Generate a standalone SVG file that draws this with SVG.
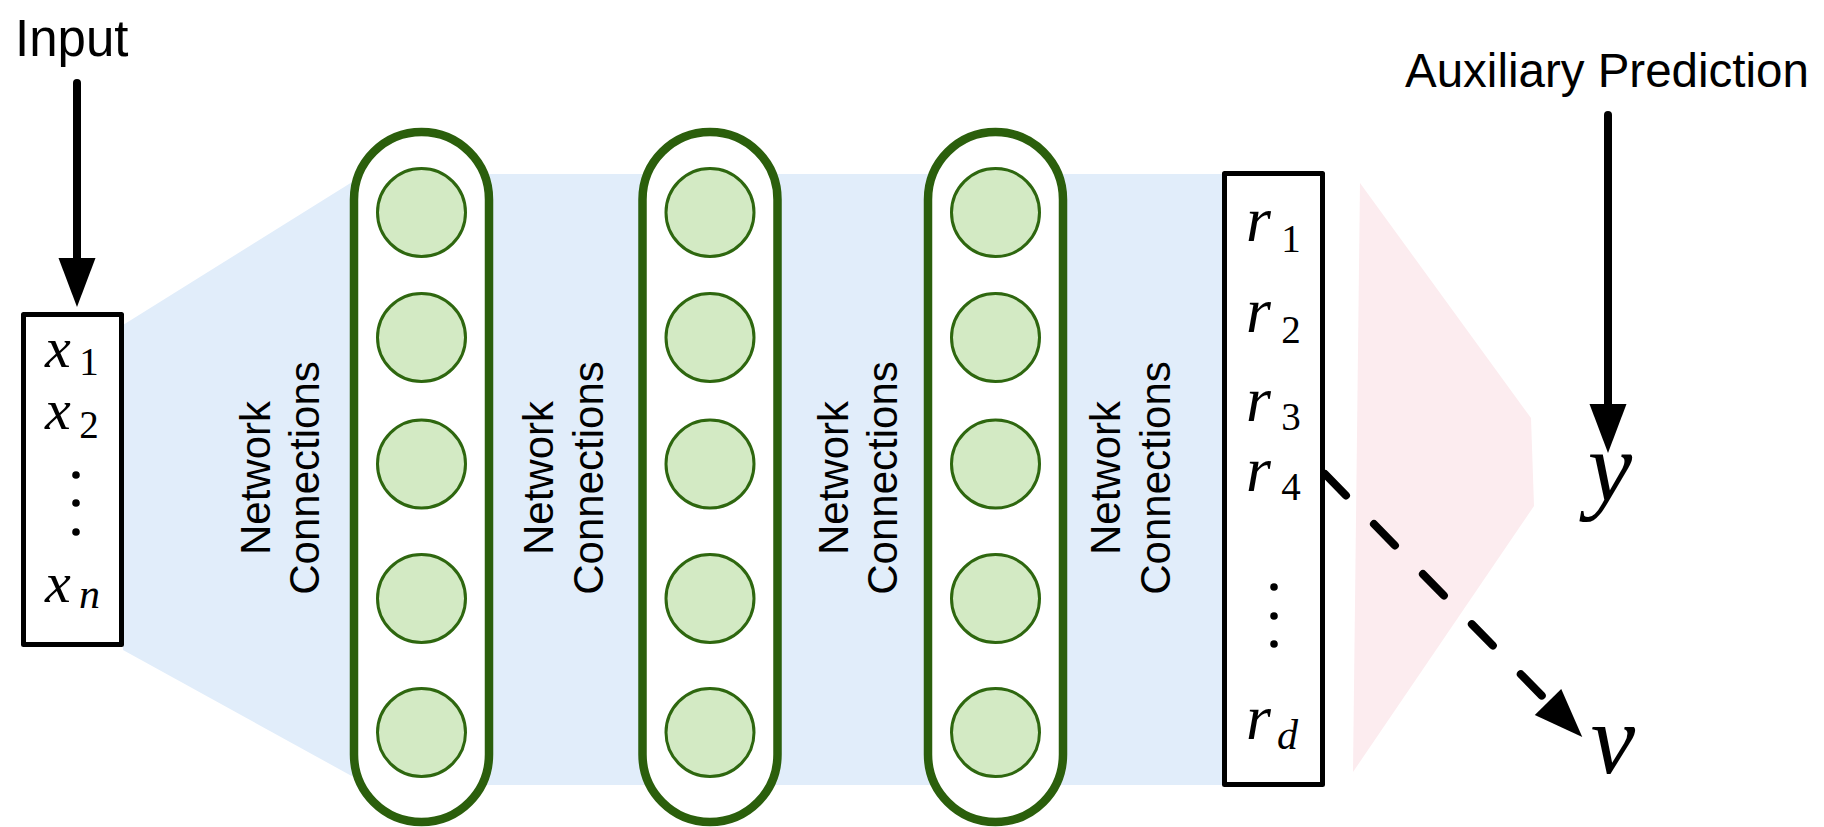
<svg xmlns="http://www.w3.org/2000/svg" width="1824" height="827" viewBox="0 0 1824 827">
  <defs>
    <style>
      .sans { font-family: "Liberation Sans", Arial, Helvetica, sans-serif; fill: #000; }
      .math { font-family: "Liberation Serif", "Times New Roman", serif; font-style: italic; fill: #000; }
      .mx { font-size: 58px; }
      .mr { font-size: 64px; }
      .sub { font-family: "Liberation Serif", "Times New Roman", serif; font-size: 39px; fill: #000; }
      .subi { font-family: "Liberation Serif", "Times New Roman", serif; font-style: italic; font-size: 42px; fill: #000; }
      .vec { fill: #fff; stroke: #000; stroke-width: 5; stroke-linejoin: round; }
      .pill { fill: #fff; stroke: #2b5f0c; stroke-width: 8.5; }
      .unit { fill: #d3eac4; stroke: #2e670f; stroke-width: 3; }
      .dot { fill: #000; }
      .conn-label { font-size: 42px; text-anchor: middle; }
      .arrow { fill: none; stroke: #000; stroke-width: 8; stroke-linecap: round; }
      .dashed { stroke-dasharray: 30 40; }
    </style>
    <marker id="head" markerUnits="userSpaceOnUse" markerWidth="60" markerHeight="44" viewBox="0 -22 60 44" refX="0" refY="0" orient="auto" overflow="visible">
      <path d="M0,-18.5 L49,0 L0,18.5 z" fill="#000"/>
    </marker>
  </defs>

  <rect width="1824" height="827" fill="#fff"/>

  <!-- background bands: hidden network (blue) and prediction head (pink) -->
  <g id="bands">
    <polygon points="123,325 365,174 1222,174 1222,785 368,785 123,650" fill="#e1edfa"/>
    <polygon points="1360,183 1531,418 1534,506 1353,772" fill="#fcecef"/>
  </g>

  <!-- input vector -->
  <g id="input">
    <text class="sans" x="15" y="56" font-size="51">Input</text>
    <rect class="vec" x="23.5" y="314.5" width="98" height="330"/>
    <text class="math mx" x="45" y="367">x</text>
    <text class="sub" x="89" y="375" text-anchor="middle">1</text>
    <text class="math mx" x="45" y="429">x</text>
    <text class="sub" x="89" y="438" text-anchor="middle">2</text>
    <circle class="dot" cx="76" cy="475" r="3.8"/>
    <circle class="dot" cx="76" cy="503" r="3.8"/>
    <circle class="dot" cx="76" cy="532" r="3.8"/>
    <text class="math mx" x="45" y="602">x</text>
    <text class="subi" x="79" y="608">n</text>
  </g>

  <!-- hidden layers -->
  <g id="layer-1">
    <rect class="pill" x="354" y="132" width="135" height="690" rx="67.5"/>
    <circle class="unit" cx="421.5" cy="212.5" r="44"/>
    <circle class="unit" cx="421.5" cy="337.5" r="44"/>
    <circle class="unit" cx="421.5" cy="464" r="44"/>
    <circle class="unit" cx="421.5" cy="598.5" r="44"/>
    <circle class="unit" cx="421.5" cy="732.5" r="44"/>
  </g>
  <g id="layer-2">
    <rect class="pill" x="642.5" y="132" width="135" height="690" rx="67.5"/>
    <circle class="unit" cx="710" cy="212.5" r="44"/>
    <circle class="unit" cx="710" cy="337.5" r="44"/>
    <circle class="unit" cx="710" cy="464" r="44"/>
    <circle class="unit" cx="710" cy="598.5" r="44"/>
    <circle class="unit" cx="710" cy="732.5" r="44"/>
  </g>
  <g id="layer-3">
    <rect class="pill" x="928" y="132" width="135" height="690" rx="67.5"/>
    <circle class="unit" cx="995.5" cy="212.5" r="44"/>
    <circle class="unit" cx="995.5" cy="337.5" r="44"/>
    <circle class="unit" cx="995.5" cy="464" r="44"/>
    <circle class="unit" cx="995.5" cy="598.5" r="44"/>
    <circle class="unit" cx="995.5" cy="732.5" r="44"/>
  </g>

  <!-- connection labels between layers -->
  <g id="connection-labels" class="sans conn-label">
    <text transform="translate(270,478) rotate(-90)">Network</text>
    <text transform="translate(319,478) rotate(-90)">Connections</text>
    <text transform="translate(553,478) rotate(-90)">Network</text>
    <text transform="translate(603,478) rotate(-90)">Connections</text>
    <text transform="translate(848,478) rotate(-90)">Network</text>
    <text transform="translate(897,478) rotate(-90)">Connections</text>
    <text transform="translate(1120,478) rotate(-90)">Network</text>
    <text transform="translate(1170,478) rotate(-90)">Connections</text>
  </g>

  <!-- representation vector -->
  <g id="representation">
    <rect class="vec" x="1224.5" y="173.5" width="98" height="611"/>
    <text class="math mr" x="1246" y="241">r</text>
    <text class="sub" x="1291" y="252" text-anchor="middle">1</text>
    <text class="math mr" x="1246" y="332">r</text>
    <text class="sub" x="1291" y="343" text-anchor="middle">2</text>
    <text class="math mr" x="1246" y="421">r</text>
    <text class="sub" x="1291" y="430" text-anchor="middle">3</text>
    <text class="math mr" x="1246" y="491">r</text>
    <text class="sub" x="1291" y="500" text-anchor="middle">4</text>
    <circle class="dot" cx="1274" cy="587" r="3.8"/>
    <circle class="dot" cx="1274" cy="616" r="3.8"/>
    <circle class="dot" cx="1274" cy="644" r="3.8"/>
    <text class="math mr" x="1246" y="739">r</text>
    <text class="subi" x="1277" y="749">d</text>
  </g>

  <!-- outputs -->
  <g id="aux-prediction">
    <text class="sans" x="1405" y="87" font-size="47.5">Auxiliary Prediction</text>
  </g>
  <g id="target-y">
    <text class="math" x="1610" y="501" font-size="100" text-anchor="middle">y</text>
  </g>
  <g id="target-v">
    <text class="math" x="1613" y="773" font-size="100" text-anchor="middle">v</text>
  </g>

  <!-- connectors -->
  <g id="connectors">
    <path class="arrow" d="M77,83 L77,258" marker-end="url(#head)"/>
    <path class="arrow" d="M1608,115 L1608,404" marker-end="url(#head)"/>
    <path class="arrow dashed" d="M1325,474 L1548,702" marker-end="url(#head)"/>
  </g>
</svg>
